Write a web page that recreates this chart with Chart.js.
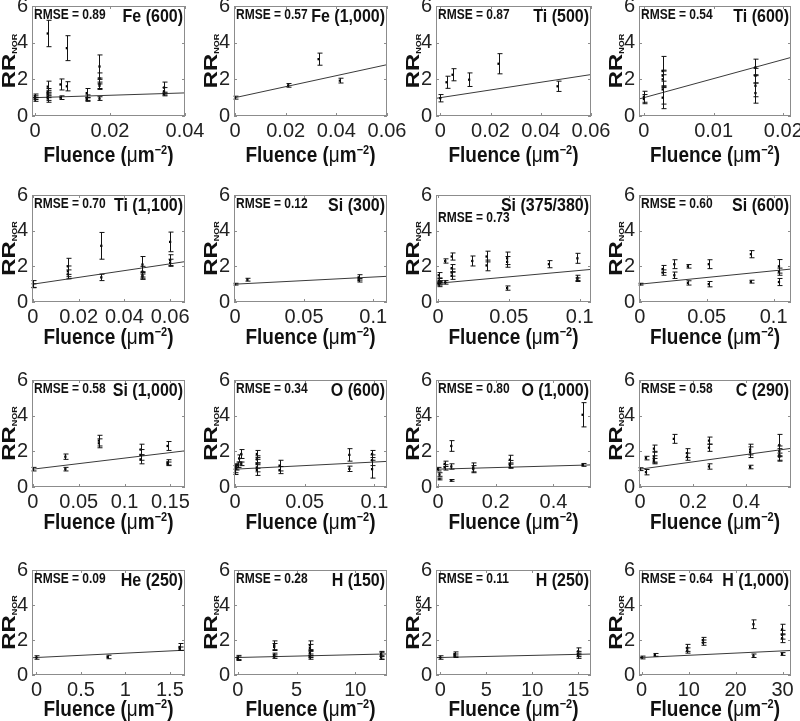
<!DOCTYPE html>
<html>
<head>
<meta charset="utf-8">
<script src="https://cdn.jsdelivr.net/npm/chart.js@4.4.1/dist/chart.umd.min.js"></script>
<style>
  body { margin: 0; background: #fff; width: 800px; height: 721px; position: relative; overflow: hidden; }
  canvas { position: absolute; }
</style>
</head>
<body>
<script>
// Panel data (one entry per panel, left to right, top to bottom)
const panelLabels = ['Fe (600)', 'Fe (1,000)', 'Ti (500)', 'Ti (600)', 'Ti (1,100)', 'Si (300)', 'Si (375/380)', 'Si (600)',
                     'Si (1,000)', 'O (600)', 'O (1,000)', 'C (290)', 'He (250)', 'H (150)', 'H (250)', 'H (1,000)'];
const rmse = ['0.89', '0.57', '0.87', '0.54', '0.70', '0.12', '0.73', '0.60', '0.58', '0.34', '0.80', '0.58', '0.09', '0.28', '0.11', '0.64'];
const xTicks = [[0, 0.02, 0.04], [0, 0.02, 0.04, 0.06], [0, 0.02, 0.04, 0.06], [0, 0.01, 0.02],
                [0, 0.02, 0.04, 0.06], [0, 0.05, 0.1], [0, 0.05, 0.1], [0, 0.05, 0.1],
                [0, 0.05, 0.1, 0.15], [0, 0.05, 0.1], [0, 0.2, 0.4], [0, 0.2, 0.4],
                [0, 0.5, 1, 1.5], [0, 5, 10], [0, 5, 10, 15], [0, 10, 20, 30]];
const yTicks = [0, 2, 4, 6];
const xMin = [-0.0008, -0.0004, -0.0017, -0.0007, -0.0004, -0.0007, -0.0014, -0.0007,
              -0.001, -0.0007, -0.007, -0.0037, -0.05, -0.32, -0.47, -0.57];
const xMax = [0.04, 0.06, 0.06, 0.0211, 0.0665, 0.11, 0.108, 0.113, 0.166, 0.109, 0.53, 0.569, 1.67, 12.7, 16.4, 31.8];
const fitIntercept = [1, 1, 1, 1, 1, 1, 1.05, 1, 1, 1, 1, 1, 1, 1, 1, 1];
const fitSlope = [6.5, 30, 21, 104, 19, 4, 7.2, 7.5, 6.2, 4, 0.45, 2.05, 0.25, 0.016, 0.012, 0.0126];

const fluence = [
  [0, 0, 0, 0.0034, 0.0034, 0.0034, 0.0034, 0.0034, 0.0034, 0.0068, 0.0068, 0.0085, 0.0085, 0.0138, 0.0138, 0.0138, 0.0172, 0.0172, 0.0172, 0.0172, 0.0172, 0.0344, 0.0344, 0.0344],
  [0, 0.021, 0.033, 0.0414],
  [0, 0.0025, 0.0049, 0.0115, 0.0232, 0.0467],
  [0, 0, 0.0027, 0.0027, 0.0027, 0.0027, 0.0027, 0.016, 0.016, 0.016, 0.016],
  [0, 0, 0.0153, 0.0153, 0.0153, 0.0299, 0.0299, 0.0479, 0.0479, 0.0479, 0.0479, 0.06, 0.06, 0.06],
  [0, 0.009, 0.0895, 0.0895],
  [0.0005, 0.0005, 0.0005, 0.0005, 0.0015, 0.0051, 0.0051, 0.0097, 0.0097, 0.0097, 0.0097, 0.0242, 0.0343, 0.0343, 0.0488, 0.0488, 0.0488, 0.0783, 0.0984, 0.0984, 0.0984],
  [0, 0.017, 0.017, 0.0257, 0.0257, 0.0359, 0.0359, 0.0515, 0.0515, 0.083, 0.083, 0.104, 0.104, 0.104],
  [0, 0.0354, 0.0354, 0.072, 0.072, 0.1175, 0.1175, 0.1175, 0.147, 0.147, 0.147],
  [0, 0, 0.001, 0.001, 0.002, 0.003, 0.0045, 0.0045, 0.0157, 0.0157, 0.0157, 0.0157, 0.0157, 0.032, 0.032, 0.082, 0.082, 0.0983, 0.0983, 0.0983],
  [0, 0.005, 0.005, 0.023, 0.023, 0.046, 0.046, 0.046, 0.122, 0.122, 0.249, 0.249, 0.249, 0.501, 0.501],
  [0, 0.0225, 0.0225, 0.0525, 0.0525, 0.0525, 0.0525, 0.1275, 0.1775, 0.1775, 0.26, 0.26, 0.26, 0.415, 0.415, 0.415, 0.525, 0.525, 0.525, 0.525],
  [0, 0.8, 1.61, 1.61],
  [0, 0, 3.1, 3.1, 3.1, 3.1, 6.14, 6.14, 6.14, 6.14, 6.14, 12.2, 12.2, 12.2],
  [0, 1.55, 1.55, 15, 15, 15],
  [0, 2.8, 9.7, 9.7, 13.06, 13.06, 23.8, 23.8, 29.9, 29.9, 29.9, 29.9]
];
const rrNor = [
  [1.1, 1.0, 0.9, 4.5, 1.6, 1.3, 1.2, 1.05, 0.95, 1.72, 1.0, 3.7, 1.62, 1.25, 1.0, 0.9, 2.7, 2.05, 1.75, 1.65, 0.95, 1.55, 1.35, 1.2],
  [1.0, 1.67, 3.1, 1.93],
  [0.97, 1.84, 2.25, 1.98, 2.85, 1.62],
  [1.05, 0.92, 2.45, 2.2, 2.0, 1.45, 1.0, 2.65, 2.2, 1.65, 1.25],
  [1.0, 0.92, 2.0, 1.72, 1.55, 3.15, 1.38, 2.1, 1.7, 1.5, 1.42, 3.37, 2.35, 2.2],
  [1.0, 1.25, 1.38, 1.22],
  [1.5, 1.2, 1.05, 0.98, 1.1, 2.3, 1.1, 2.55, 1.9, 1.65, 1.47, 2.3, 2.55, 2.05, 2.45, 2.25, 0.78, 2.12, 2.45, 1.35, 1.25],
  [1.0, 1.85, 1.65, 2.12, 1.5, 2.0, 1.07, 2.12, 1.0, 2.68, 1.14, 2.0, 1.7, 1.12],
  [1.0, 1.7, 1.0, 2.6, 2.45, 2.1, 1.8, 1.55, 2.3, 1.38, 1.3],
  [1.0, 0.85, 1.1, 1.2, 1.25, 1.6, 1.85, 1.3, 1.85, 1.55, 1.3, 1.1, 0.95, 1.2, 0.95, 1.8, 1.02, 1.85, 1.5, 1.0],
  [1.0, 0.7, 0.45, 1.3, 1.1, 2.3, 1.15, 0.37, 1.1, 1.0, 1.53, 1.29, 1.2, 4.05, 1.24],
  [1.0, 1.62, 0.83, 2.15, 1.7, 1.55, 1.45, 2.7, 1.9, 1.7, 2.6, 2.2, 1.15, 2.1, 1.95, 1.12, 2.35, 2.0, 1.8, 1.7],
  [1.0, 1.03, 1.6, 1.5],
  [1.0, 0.93, 1.7, 1.6, 1.15, 1.05, 1.7, 1.55, 1.25, 1.1, 1.0, 1.2, 1.1, 1.0],
  [1.0, 1.2, 1.1, 1.35, 1.2, 1.1],
  [1.0, 1.15, 1.55, 1.4, 2.0, 1.85, 2.9, 1.1, 2.6, 2.3, 2.1, 1.2]
];
const rrErr = [
  [0.1, 0.1, 0.1, 0.72, 0.3, 0.2, 0.2, 0.2, 0.2, 0.3, 0.1, 0.68, 0.25, 0.25, 0.15, 0.1, 0.63, 0.3, 0.25, 0.2, 0.1, 0.3, 0.2, 0.1],
  [0.08, 0.1, 0.33, 0.13],
  [0.2, 0.33, 0.33, 0.37, 0.55, 0.28],
  [0.3, 0.25, 0.8, 0.3, 0.45, 0.8, 0.6, 0.45, 0.4, 0.6, 0.55],
  [0.2, 0.1, 0.45, 0.3, 0.25, 0.75, 0.18, 0.45, 0.3, 0.2, 0.15, 0.55, 0.3, 0.2],
  [0.05, 0.08, 0.15, 0.1],
  [0.15, 0.12, 0.1, 0.12, 0.1, 0.12, 0.1, 0.2, 0.2, 0.2, 0.2, 0.28, 0.3, 0.3, 0.35, 0.3, 0.12, 0.2, 0.28, 0.15, 0.1],
  [0.05, 0.2, 0.15, 0.25, 0.18, 0.1, 0.12, 0.25, 0.15, 0.2, 0.08, 0.38, 0.2, 0.2],
  [0.1, 0.15, 0.1, 0.3, 0.25, 0.3, 0.3, 0.25, 0.25, 0.15, 0.1],
  [0.2, 0.15, 0.15, 0.1, 0.15, 0.2, 0.25, 0.1, 0.2, 0.2, 0.25, 0.25, 0.3, 0.3, 0.2, 0.35, 0.15, 0.2, 0.3, 0.5],
  [0.1, 0.1, 0.05, 0.15, 0.15, 0.3, 0.15, 0.05, 0.25, 0.2, 0.25, 0.2, 0.15, 0.68, 0.08],
  [0.08, 0.1, 0.15, 0.2, 0.3, 0.2, 0.15, 0.25, 0.25, 0.2, 0.2, 0.2, 0.15, 0.3, 0.3, 0.1, 0.6, 0.3, 0.35, 0.2],
  [0.1, 0.1, 0.2, 0.1],
  [0.12, 0.1, 0.25, 0.2, 0.1, 0.1, 0.25, 0.2, 0.15, 0.1, 0.1, 0.15, 0.2, 0.1],
  [0.1, 0.12, 0.1, 0.2, 0.15, 0.15],
  [0.08, 0.08, 0.2, 0.15, 0.15, 0.15, 0.25, 0.1, 0.3, 0.25, 0.25, 0.08]
];

// grid geometry (plot-area edges in page pixels)
const colLeft = [32, 234, 436, 639], colRight = [185, 387, 591, 791];
const rowTop = [4, 193, 378, 568], rowBottom = [116, 302, 487, 675];
const titleGap = [40, 36, 36, 35];
const FONT = '"Liberation Sans", Arial, Helvetica, sans-serif';
const PAD_L = 34, PAD_T = 14, PAD_R = 30, AX_H = 50;
const STRETCH = 1.18; // text in the source figure is a bit taller than wide

Chart.defaults.font.family = FONT;

// draw text with a vertical stretch, centred on its middle line
function tallText(ctx, text, x, y, font, align) {
  ctx.save();
  ctx.translate(x, y);
  ctx.scale(1, STRETCH);
  ctx.font = font;
  ctx.textAlign = align;
  ctx.textBaseline = 'middle';
  ctx.fillText(text, 0, 0);
  ctx.restore();
}

function panelPlugin(i) {
  const row = Math.floor(i / 4);
  return {
    id: 'panel' + i,
    afterDatasetsDraw(chart) {
      const ctx = chart.ctx, xs = chart.scales.x, ys = chart.scales.y;
      ctx.save();
      ctx.strokeStyle = '#111';
      ctx.lineWidth = 1;
      fluence[i].forEach((x, j) => {
        const px = Math.round(xs.getPixelForValue(x)) + 0.5;
        const y1 = ys.getPixelForValue(rrNor[i][j] - rrErr[i][j]);
        const y2 = ys.getPixelForValue(rrNor[i][j] + rrErr[i][j]);
        ctx.beginPath();
        ctx.moveTo(px, y1); ctx.lineTo(px, y2);
        ctx.moveTo(px - 2, y1); ctx.lineTo(px + 3, y1);
        ctx.moveTo(px - 2, y2); ctx.lineTo(px + 3, y2);
        ctx.stroke();
      });
      ctx.restore();
    },
    afterDraw(chart) {
      const ctx = chart.ctx, a = chart.chartArea, xs = chart.scales.x, ys = chart.scales.y;
      ctx.save();
      // box and inward tick marks
      ctx.strokeStyle = '#8c8c8c';
      ctx.lineWidth = 1;
      ctx.strokeRect(a.left + 0.5, a.top + 0.5, a.right - a.left - 1, a.bottom - a.top - 1);
      ctx.beginPath();
      xTicks[i].forEach(v => {
        const px = Math.round(xs.getPixelForValue(v)) + 0.5;
        ctx.moveTo(px, a.bottom); ctx.lineTo(px, a.bottom - 3);
        ctx.moveTo(px, a.top); ctx.lineTo(px, a.top + 3);
      });
      yTicks.forEach(v => {
        const py = Math.round(ys.getPixelForValue(v)) + 0.5;
        ctx.moveTo(a.left, py); ctx.lineTo(a.left + 3, py);
        ctx.moveTo(a.right, py); ctx.lineTo(a.right - 3, py);
      });
      ctx.stroke();

      // RMSE and panel label
      ctx.fillStyle = '#111';
      tallText(ctx, 'RMSE = ' + rmse[i], a.left + 2, a.top + (i === 6 ? 23 : 9), 'bold 12px ' + FONT, 'left');
      tallText(ctx, panelLabels[i], a.right - 2, a.top + 11, 'bold 16px ' + FONT, 'right');

      // y title RR with subscript NOR
      ctx.save();
      ctx.translate(a.left - 23, (a.top + a.bottom) / 2);
      ctx.rotate(-Math.PI / 2);
      ctx.scale(1, 0.8);
      ctx.textAlign = 'left';
      ctx.textBaseline = 'alphabetic';
      ctx.font = 'bold 24px ' + FONT;
      const wR = ctx.measureText('RR').width;
      ctx.font = 'bold 9px ' + FONT;
      const wN = ctx.measureText('NOR').width;
      const start = -(wR + wN) / 2;
      ctx.font = 'bold 24px ' + FONT;
      ctx.fillText('RR', start, 8);
      ctx.font = 'bold 9px ' + FONT;
      ctx.fillText('NOR', start + wR, 9.5);
      ctx.restore();

      // x title: Fluence (μm−2)
      const parts = [['Fluence (', 'bold 19px', 0], ['\u03bc', '19px', 0], ['m', 'bold 19px', 0],
                     ['\u22122', 'bold 11px', -7], [')', 'bold 19px', 0]];
      let total = 0;
      parts.forEach(p => { ctx.font = p[1] + ' ' + FONT; total += ctx.measureText(p[0]).width; });
      ctx.save();
      ctx.translate((a.left + a.right) / 2 - total / 2, a.bottom + titleGap[row] + 6);
      ctx.scale(1, STRETCH);
      ctx.textAlign = 'left';
      ctx.textBaseline = 'alphabetic';
      let x = 0;
      parts.forEach(p => {
        ctx.font = p[1] + ' ' + FONT;
        ctx.fillText(p[0], x, p[2]);
        x += ctx.measureText(p[0]).width;
      });
      ctx.restore();
      ctx.restore();
    }
  };
}

for (let i = 0; i < 16; i++) {
  const r = Math.floor(i / 4), c = i % 4;
  const w = colRight[c] - colLeft[c], h = rowBottom[r] - rowTop[r];
  const cv = document.createElement('canvas');
  cv.width = w + PAD_L + PAD_R;
  cv.height = h + PAD_T + AX_H;
  cv.style.left = (colLeft[c] - PAD_L) + 'px';
  cv.style.top = (rowTop[r] - PAD_T) + 'px';
  document.body.appendChild(cv);

  const pts = fluence[i].map((x, j) => ({ x: x, y: rrNor[i][j] }));
  const fit = [xMin[i], xMax[i]].map(x => ({ x: x, y: fitIntercept[i] + fitSlope[i] * x }));

  new Chart(cv.getContext('2d'), {
    type: 'scatter',
    data: {
      datasets: [
        { data: fit, showLine: true, borderColor: '#3a3a3a', borderWidth: 1, pointRadius: 0, order: 2 },
        { data: pts, pointStyle: 'rect', pointRadius: 1.6, backgroundColor: '#000', borderWidth: 0, order: 1 }
      ]
    },
    options: {
      responsive: false,
      animation: false,
      events: [],
      layout: { padding: { left: 0, top: PAD_T, right: PAD_R, bottom: 0 } },
      plugins: { legend: { display: false }, tooltip: { enabled: false } },
      scales: {
        x: {
          type: 'linear', min: xMin[i], max: xMax[i],
          afterBuildTicks: s => { s.ticks = xTicks[i].map(v => ({ value: v })); },
          afterFit: s => { s.height = AX_H; },
          grid: { display: false, drawTicks: false },
          border: { display: false },
          ticks: { autoSkip: false, maxRotation: 0, padding: 3, color: '#222', font: { size: 20 }, callback: v => String(v) }
        },
        y: {
          min: 0, max: 6,
          afterBuildTicks: s => { s.ticks = yTicks.map(v => ({ value: v })); },
          afterFit: s => { s.width = PAD_L; },
          grid: { display: false, drawTicks: false },
          border: { display: false },
          ticks: { padding: 4, color: '#222', font: { size: 20 }, callback: v => String(v) }
        }
      }
    },
    plugins: [panelPlugin(i)]
  });
}
</script>
</body>
</html>
